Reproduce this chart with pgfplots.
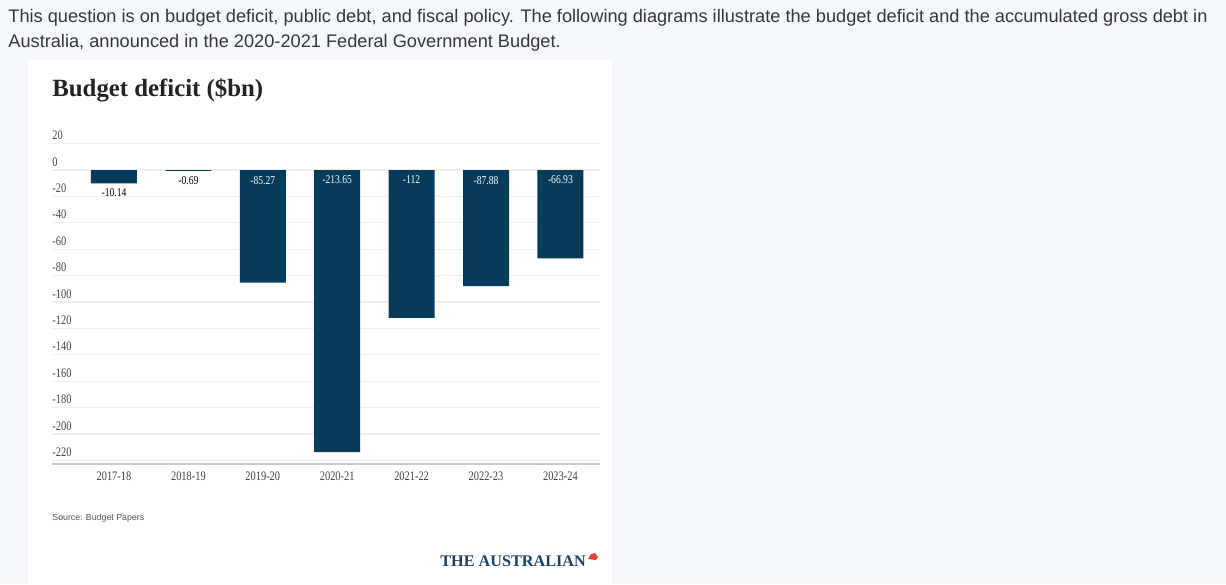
\documentclass[border=0pt]{standalone}
\usepackage{fontspec}
\usepackage{pgfplots}
\pgfplotsset{compat=1.18}
\setmainfont{Liberation Sans}
\newfontfamily\tickfont[FakeStretch=0.8]{Liberation Serif}
\newfontfamily\serifb{Liberation Serif}
\definecolor{navy}{HTML}{063B59}
\definecolor{logonavy}{HTML}{1D4260}
\definecolor{bgtint}{HTML}{F5F8FC}
\definecolor{textgray}{HTML}{363636}
\definecolor{titlegray}{HTML}{232323}
\definecolor{labelgray}{HTML}{444444}
\definecolor{gridgray}{HTML}{F0F0F0}
\definecolor{axisgray}{HTML}{C9C9C2}
\definecolor{srcgray}{HTML}{555555}
\definecolor{logored}{HTML}{E8403A}
\begin{document}
\begin{tikzpicture}
\useasboundingbox (0,0) rectangle (613pt,292pt);
\begin{scope}[x=0.5pt,y=-0.5pt,shift={(0,292pt)}]
\fill[bgtint] (0,0) rectangle (1226,584);
\fill[white] (28,60) rectangle (612,584);
\node[anchor=base west,inner sep=0pt,text=textgray,font=\fontsize{9.1}{10}\selectfont] at (8,23) {This question is on budget deficit, public debt, and fiscal policy. The following diagrams illustrate the budget deficit and the accumulated gross debt in};
\node[anchor=base west,inner sep=0pt,text=textgray,font=\fontsize{9.1}{10}\selectfont] at (8,48) {Australia, announced in the 2020-2021 Federal Government Budget.};
\node[anchor=base west,inner sep=0pt,text=titlegray,font=\serifb\bfseries\fontsize{12.4}{14}\selectfont] at (52,97) {Budget deficit (\$bn)};
\node[anchor=base west,inner sep=0pt,text=srcgray,font=\fontsize{4.4}{5}\selectfont] at (52,520) {Source: Budget Papers};
\node[anchor=base west,inner sep=0pt,text=logonavy,font=\serifb\bfseries\fontsize{8.1}{10}\selectfont] at (440,566) {THE AUSTRALIAN};
\fill[logored] (588,559) -- (591,554) -- (595,553) -- (598,557) -- (596,560) -- cycle;
\end{scope}
\begin{axis}[
  at={(26pt,60pt)}, anchor=south west,
  scale only axis, width=274pt, height=161.5pt,
  xmin=-0.833, xmax=6.532, ymin=-222.7, ymax=22,
  axis x line*=bottom, axis y line*=left,
  x axis line style={-,draw=axisgray,line width=1pt},
  y axis line style={draw=none},
  major tick length=0pt,
  xtick={0,1,2,3,4,5,6},
  xticklabels={2017-18,2018-19,2019-20,2020-21,2021-22,2022-23,2023-24},
  ytick={-220,-200,-180,-160,-140,-120,-100,-80,-60,-40,-20,0,20},
  yticklabels={-220,-200,-180,-160,-140,-120,-100,-80,-60,-40,-20,0,20},
  ymajorgrids, grid style={draw=gridgray,line width=0.6pt},
  xticklabel style={anchor=north,inner sep=0pt,yshift=-3.5pt,text=labelgray,font=\tickfont\fontsize{6.5}{7}\selectfont},
  yticklabel style={anchor=base west,inner sep=0pt,xshift=0pt,yshift=2pt,text=labelgray,font=\tickfont\fontsize{6.5}{7}\selectfont},
  clip=false,
]
\addplot[ybar, bar width=23pt, fill=navy, draw=none] coordinates {
 (0,-10.14) (1,-0.69) (2,-85.27) (3,-213.65) (4,-112) (5,-87.88) (6,-66.93)};
\addplot[draw=none, mark=none, nodes near coords, point meta=explicit symbolic,
  nodes near coords style={anchor=north,inner sep=0pt,yshift=-2.5pt,text=black,font=\tickfont\fontsize{6}{7}\selectfont}]
 coordinates {(0,-10.14) [-10.14] (1,-0.69) [-0.69]};
\addplot[draw=none, mark=none, nodes near coords, point meta=explicit symbolic,
  nodes near coords style={anchor=north,inner sep=0pt,yshift=-2.8pt,text=white,font=\tickfont\fontsize{6}{7}\selectfont}]
 coordinates {(2,0) [-85.27] (3,0) [-213.65] (4,0) [-112] (5,0) [-87.88] (6,0) [-66.93]};
\end{axis}
\end{tikzpicture}
\end{document}
